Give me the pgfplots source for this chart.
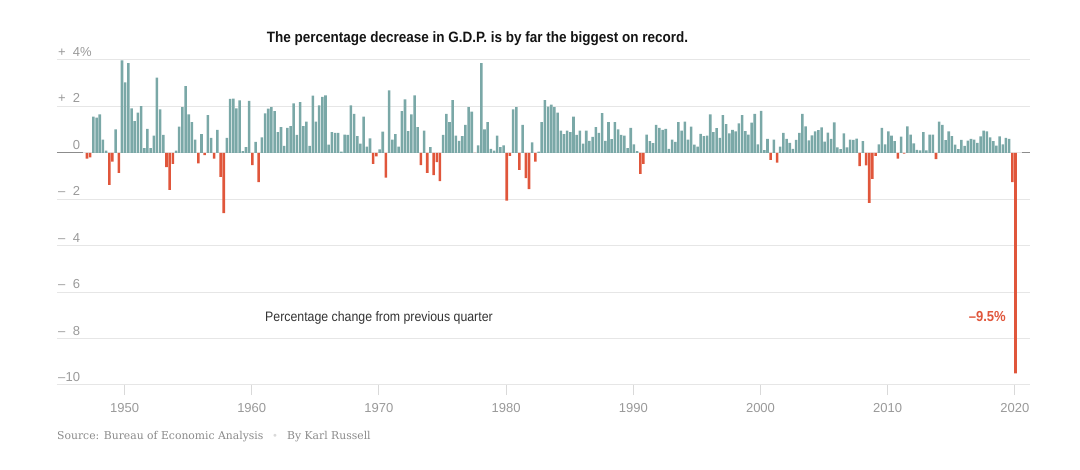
\documentclass[border=0pt]{standalone}
\usepackage{pgfplots}
\pgfplotsset{compat=1.18}
\usepackage{pgfplotstable}
\usepackage{fontspec}
\setmainfont{Liberation Sans}
\newfontfamily\titlefont[FakeStretch=0.9]{Liberation Sans}
\newfontfamily\srcfont{DejaVu Serif}
\definecolor{barteal}{HTML}{7AA8A7}
\definecolor{barred}{HTML}{E0563B}
\definecolor{gridgray}{HTML}{E6E6E6}
\definecolor{tickgray}{HTML}{D9D9D9}
\definecolor{labgray}{HTML}{999999}
\definecolor{srcgray}{HTML}{8A8A8A}

\pgfplotstableread{
year q1 q2 q3 q4
1947 nan -0.25 -0.20 1.56
1948 1.52 1.66 0.57 0.10
1949 -1.38 -0.38 1.01 -0.86
1950 3.98 3.04 3.87 1.92
1951 1.37 1.73 2.01 0.20
1952 1.03 0.20 0.74 3.24
1953 1.87 0.77 -0.61 -1.59
1954 -0.48 0.10 1.13 1.97
1955 2.87 1.66 1.32 0.57
1956 -0.45 0.81 -0.10 1.63
1957 0.64 -0.25 0.99 -1.04
1958 -2.60 0.64 2.32 2.34
1959 1.92 2.26 0.07 0.25
1960 2.24 -0.53 0.47 -1.26
1961 0.67 1.70 1.90 1.97
1962 1.80 0.89 1.11 0.30
1963 1.08 1.15 2.13 0.77
1964 2.18 1.15 1.35 0.30
1965 2.46 1.35 2.04 2.41
1966 2.48 0.35 0.89 0.86
1967 0.86 0.05 0.79 0.77
1968 2.04 1.68 0.72 0.40
1969 1.56 0.27 0.62 -0.48
1970 -0.15 0.15 0.91 -1.07
1971 2.69 0.57 0.81 0.27
1972 1.80 2.30 0.94 1.66
1973 2.48 1.11 -0.53 0.96
1974 -0.86 0.25 -0.96 -0.40
1975 -1.22 0.77 1.68 1.32
1976 2.27 0.74 0.52 0.72
1977 1.20 1.97 1.78 0.00
1978 0.32 3.87 1.01 1.32
1979 0.17 0.10 0.74 0.25
1980 0.32 -2.06 -0.13 1.87
1981 1.97 -0.73 1.20 -1.09
1982 -1.56 0.45 -0.38 0.05
1983 1.32 2.27 1.99 2.08
1984 1.97 1.73 0.96 0.81
1985 0.96 0.89 1.56 0.77
1986 0.96 0.40 0.96 0.52
1987 0.69 1.11 0.86 1.71
1988 0.52 1.32 0.59 1.32
1989 1.01 0.77 0.74 0.20
1990 1.08 0.37 0.07 -0.91
1991 -0.48 0.79 0.50 0.42
1992 1.20 1.08 0.99 1.03
1993 0.17 0.57 0.47 1.32
1994 0.96 1.35 0.57 1.13
1995 0.35 0.27 0.82 0.72
1996 0.74 1.66 0.89 1.06
1997 0.65 1.62 1.24 0.84
1998 0.99 0.93 1.27 1.62
1999 0.94 0.79 1.30 1.68
2000 0.36 1.81 0.12 0.60
2001 -0.30 0.57 -0.42 0.27
2002 0.86 0.60 0.43 0.17
2003 0.56 0.86 1.68 1.14
2004 0.54 0.75 0.93 0.98
2005 1.10 0.48 0.87 0.60
2006 1.31 0.24 0.16 0.84
2007 0.24 0.57 0.56 0.61
2008 -0.57 0.51 -0.54 -2.16
2009 -1.12 -0.13 0.36 1.08
2010 0.37 0.92 0.74 0.50
2011 -0.25 0.70 -0.03 1.14
2012 0.78 0.41 0.13 0.11
2013 0.89 0.11 0.78 0.78
2014 -0.27 1.34 1.20 0.55
2015 0.93 0.72 0.35 0.16
2016 0.56 0.30 0.53 0.60
2017 0.57 0.43 0.71 0.96
2018 0.93 0.67 0.50 0.31
2019 0.71 0.36 0.64 0.60
2020 -1.26 -9.50 nan nan
}\gdp

\begin{document}
\begin{tikzpicture}
\path[use as bounding box] (0,0) rectangle (1080pt,469pt);
\begin{axis}[
  at={(57pt,84pt)}, anchor=south west,
  scale only axis, width=973pt, height=325pt,
  xmin=1944.89, xmax=2021.39, ymin=-10, ymax=4,
  ybar, bar width=0.2, bar shift=0pt,
  axis line style={draw=none},
  ymajorgrids, grid style={gridgray, line width=1pt},
  xtick pos=lower, ytick pos=left,
  tick align=outside,
  major tick length=10pt,
  ytick style={draw=none},
  xtick style={draw=tickgray, line width=1pt},
  xtick={1950.2,1960.2,1970.2,1980.2,1990.2,2000.2,2010.2,2020.2},
  xticklabels={1950,1960,1970,1980,1990,2000,2010,2020},
  ytick={-10,-8,-6,-4,-2,0,2,4},
  yticklabels={
    {\makebox[22pt][l]{\rlap{–}\hfill 10}},
    {\makebox[22pt][l]{\rlap{–}\hfill 8}},
    {\makebox[22pt][l]{\rlap{–}\hfill 6}},
    {\makebox[22pt][l]{\rlap{–}\hfill 4}},
    {\makebox[22pt][l]{\rlap{–}\hfill 2}},
    {\makebox[22pt][l]{\hfill 0}},
    {\makebox[22pt][l]{\rlap{+}\hfill 2}},
    {\makebox[22pt][l]{\rlap{+}\hfill 4}\%}},
  ticklabel style={font=\fontsize{13}{13}\selectfont, text=labgray},
  yticklabel style={anchor=base west, inner sep=0pt, xshift=11pt, yshift=3.5pt},
  xticklabel style={anchor=base, inner sep=0pt, yshift=-17.5pt},
]
\draw[gridgray, line width=1pt] (rel axis cs:0,0) -- (rel axis cs:1,0);
\pgfplotsinvokeforeach{1,2,3,4}{
  \addplot[fill=barteal, draw=none, restrict y to domain=0:20]
    table[x expr=\thisrow{year}+0.25*(#1-1), y=q#1] {\gdp};
  \addplot[fill=barred, draw=none, restrict y to domain=-20:0]
    table[x expr=\thisrow{year}+0.25*(#1-1), y=q#1] {\gdp};
}
\draw[color=black!45, line width=1pt] (axis cs:1944.89,0) -- (axis cs:1946.94,0);
\draw[color=black!45, line width=1pt] (axis cs:2020.73,0) -- (axis cs:2021.39,0);
\end{axis}
\node[anchor=base, inner sep=0pt, text=black!92, font=\titlefont\bfseries\fontsize{15}{15}\selectfont]
  at (477.5pt,426.3pt) {The percentage decrease in G.D.P. is by far the biggest on record.};
\node[anchor=base west, inner sep=0pt, text=black!80, font=\titlefont\fontsize{13.7}{13.7}\selectfont]
  at (265pt,147.3pt) {Percentage change from previous quarter};
\node[anchor=base east, inner sep=0pt, text=barred, font=\titlefont\bfseries\fontsize{14.5}{14.5}\selectfont]
  at (1006pt,147.3pt) {–9.5\%};
\node[anchor=base west, inner sep=0pt, text=srcgray, font=\srcfont\fontsize{10.8}{10.8}\selectfont]
  at (57pt,29pt) {Source: Bureau of Economic Analysis};
\node[anchor=base, inner sep=0pt, text=black!15, font=\srcfont\fontsize{10}{10}\selectfont]
  at (275pt,29pt) {•};
\node[anchor=base west, inner sep=0pt, text=srcgray, font=\srcfont\fontsize{10.8}{10.8}\selectfont]
  at (287pt,29pt) {By Karl Russell};
\end{tikzpicture}
\end{document}
